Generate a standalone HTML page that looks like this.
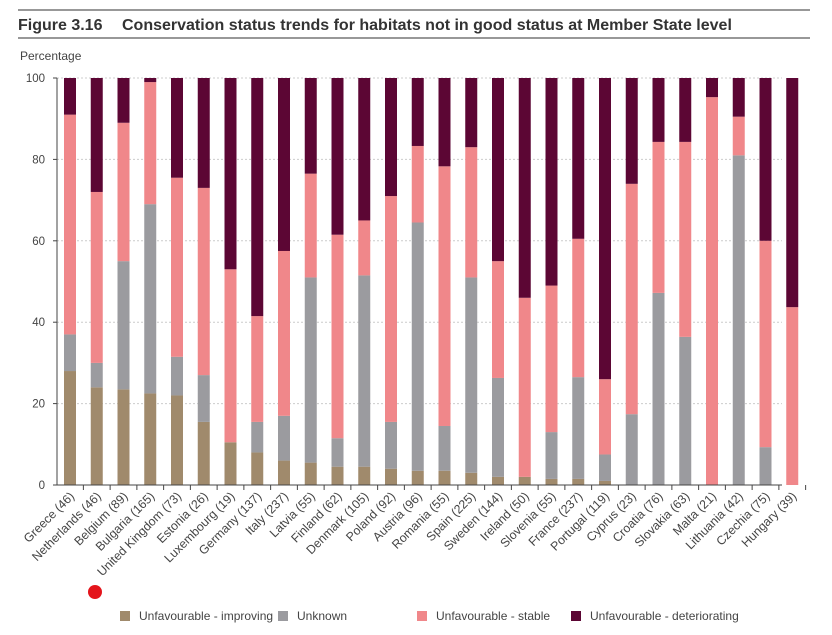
<!DOCTYPE html>
<html><head><meta charset="utf-8"><style>
body{margin:0;background:#fff;width:832px;height:630px;overflow:hidden;font-family:"Liberation Sans",sans-serif}
svg text{font-family:"Liberation Sans",sans-serif}
</style></head><body>
<svg id="c" width="832" height="630">
<line x1="18" y1="10" x2="810" y2="10" stroke="#777" stroke-width="1.5"/>
<text x="18" y="30" font-size="16" font-weight="bold" fill="#333">Figure 3.16</text>
<text x="122" y="30" font-size="16" font-weight="bold" fill="#333">Conservation status trends for habitats not in good status at Member State level</text>
<line x1="18" y1="38" x2="810" y2="38" stroke="#777" stroke-width="1.5"/>
<text x="20" y="60" font-size="12" fill="#444">Percentage</text>
<circle cx="95" cy="592" r="7" fill="#e4141b"/>
<g id="g"></g>
</svg>
<script>
const categories=["Greece (46)","Netherlands (46)","Belgium (89)","Bulgaria (165)","United Kingdom (73)","Estonia (26)","Luxembourg (19)","Germany (137)","Italy (237)","Latvia (55)","Finland (62)","Denmark (105)","Poland (92)","Austria (96)","Romania (55)","Spain (225)","Sweden (144)","Ireland (50)","Slovenia (55)","France (237)","Portugal (119)","Cyprus (23)","Croatia (76)","Slovakia (63)","Malta (21)","Lithuania (42)","Czechia (75)","Hungary (39)"];
const improving=[28,24,23.5,22.5,22,15.5,10.5,8,6,5.5,4.5,4.5,4,3.5,3.5,3,2,2,1.5,1.5,1,0,0,0,0,0,0,0];
const unknown=[9,6,31.5,46.5,9.5,11.5,0,7.5,11,45.5,7,47,11.5,61,11,48,24.3,0,11.5,25,6.5,17.4,47.2,36.4,0,81,9.3,0];
const stable=[54,42,34,30,44,46,42.5,26,40.5,25.5,50,13.5,55.5,18.8,63.8,32,28.7,44,36,34,18.5,56.6,37.1,47.9,95.3,9.5,50.7,43.7];
const yTicks=[0,20,40,60,80,100];
const seriesNames=["Unfavourable - improving","Unknown","Unfavourable - stable","Unfavourable - deteriorating"];
const colors=["#a08a6c","#9b9b9f","#f0878a","#5c0634"];
const NS="http://www.w3.org/2000/svg",g=document.getElementById('g');
const y0=485,y1=78,x0=57,step=26.75,bw=12;
const Y=v=>y0-(v/100)*(y0-y1);
const X=i=>70+i*step;
function mk(t,a){const e=document.createElementNS(NS,t);for(const k in a)e.setAttribute(k,a[k]);g.appendChild(e);return e;}
yTicks.forEach(v=>{
 if(v>0){const l=mk('line',{x1:x0,x2:782,y1:Y(v),y2:Y(v),stroke:'#ccc','stroke-dasharray':'2,2'});
 
 }
 const tk=mk('line',{x1:x0-4,x2:x0,y1:Y(v),y2:Y(v),stroke:'#444'});
 
 
 const t=mk('text',{x:x0-12,y:Y(v)+4,'font-size':11.5,'text-anchor':'end',fill:'#444'});t.textContent=v;
 
 
});
categories.forEach((c,i)=>{
 const vals=[improving[i],unknown[i],stable[i],100-improving[i]-unknown[i]-stable[i]];
 let acc=0;
 vals.forEach((v,s)=>{ if(v<=0)return;
  const r=mk('rect',{x:X(i)-bw/2,y:Y(acc+v),width:bw,height:Y(acc)-Y(acc+v),fill:colors[s]});
  
  
  acc+=v;});
 const tk=mk('line',{x1:X(i)+step/2,x2:X(i)+step/2,y1:y0,y2:y0+5,stroke:'#444'});
 
 
 const t=mk('text',{x:X(i)+5,y:y0+12,'font-size':12.3,'text-anchor':'end',fill:'#444',transform:`rotate(-45 ${X(i)+5} ${y0+12})`});
 t.textContent=c;
 
 
});
const ya=mk('line',{x1:x0,x2:x0,y1:Y(100),y2:y0,stroke:'#444'});


const xa=mk('line',{x1:x0,x2:782,y1:y0,y2:y0,stroke:'#444'});


const lx=[120,278,417,571];
seriesNames.forEach((n,s)=>{
 const r=mk('rect',{x:lx[s],y:611,width:10,height:10,fill:colors[s]});
 
 
 const t=mk('text',{x:lx[s]+19,y:620,'font-size':12,fill:'#444'});t.textContent=n;
 
 
});
</script>
</body></html>
